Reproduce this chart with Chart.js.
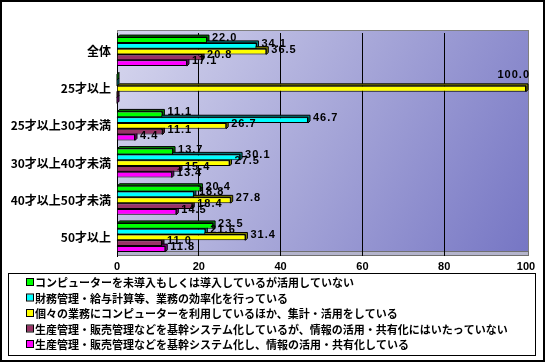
<!DOCTYPE html>
<html>
<head>
<meta charset="utf-8">
<script src="https://cdn.jsdelivr.net/npm/chart.js@4/dist/chart.umd.min.js"></script>
<style>
  html, body { margin: 0; padding: 0; background: #fff; }
  #wrap { width: 545px; height: 362px; }
</style>
</head>
<body>
<div id="wrap"><canvas id="chartIT"></canvas></div>
<script>
// categories (top to bottom)
const categories = ['全体', '25才以上', '25才以上30才未満', '30才以上40才未満', '40才以上50才未満', '50才以上'];

const seriesNames = [
    'コンピューターを未導入もしくは導入しているが活用していない',
    '財務管理・給与計算等、業務の効率化を行っている',
    '個々の業務にコンピューターを利用しているほか、集計・活用をしている',
    '生産管理・販売管理などを基幹システム化しているが、情報の活用・共有化にはいたっていない',
    '生産管理・販売管理などを基幹システム化し、情報の活用・共有化している'
];

const notUsed      = [22.0,   0.0, 11.1, 13.7, 20.4, 23.5];
const efficiency   = [34.1,   0.0, 46.7, 30.1, 18.8, 21.6];
const aggregation  = [36.5, 100.0, 26.7, 27.5, 27.8, 31.4];
const coreNoShare  = [20.8,   0.0, 11.1, 15.4, 18.4, 11.0];
const coreShared   = [17.1,   0.0,  4.4, 13.4, 14.5, 11.8];

const xTicks = [0, 20, 40, 60, 80, 100];

const colores = ['#00ff00', '#00ffff', '#ffff00', '#993366', '#ff00ff'];
const sombras = ['#008000', '#008080', '#808000', '#4c1933', '#800080'];
const valores = [notUsed, efficiency, aggregation, coreNoShare, coreShared];

const fondo = {
    id: 'fondo',
    beforeDraw(chart) {
        const { ctx, chartArea: a } = chart;
        ctx.save();
        // back wall with gradient
        const g = ctx.createLinearGradient(a.left, a.top, a.right, a.bottom);
        g.addColorStop(0, '#d6d6ee');
        g.addColorStop(0.5, '#a6a6d8');
        g.addColorStop(1, '#7676c4');
        ctx.fillStyle = g;
        ctx.fillRect(a.left, a.top - 3, a.right - a.left + 3, a.bottom - a.top + 3);
        ctx.strokeStyle = '#808080';
        ctx.lineWidth = 1;
        ctx.strokeRect(a.left + 0.5, a.top - 2.5, a.right - a.left + 2, a.bottom - a.top + 2);
        // floor
        ctx.fillStyle = '#b4b4cc';
        ctx.fillRect(a.left, a.bottom - 4, a.right - a.left + 2, 4);
        ctx.strokeStyle = '#707070';
        ctx.strokeRect(a.left + 0.5, a.bottom - 4.5, a.right - a.left + 2, 4);
        ctx.restore();
    },
    afterDraw(chart) {
        const { ctx } = chart;
        ctx.save();
        ctx.strokeStyle = '#000';
        ctx.lineWidth = 2;
        ctx.strokeRect(1, 1, chart.width - 2, chart.height - 2);
        ctx.restore();
    }
};

// depth faces for a 3D look
const profundidad = {
    id: 'profundidad',
    beforeDatasetsDraw(chart) {
        const { ctx } = chart;
        const d = 2;
        ctx.save();
        ctx.strokeStyle = '#000';
        ctx.lineWidth = 1;
        chart.data.datasets.forEach((ds, i) => {
            chart.getDatasetMeta(i).data.forEach((bar, j) => {
                const p = bar.getProps(['x', 'y', 'base', 'height'], true);
                const l = Math.min(p.base, p.x), r = Math.max(p.base, p.x);
                const t = p.y - p.height / 2, b = p.y + p.height / 2;
                ctx.fillStyle = sombras[i];
                ctx.beginPath();
                ctx.moveTo(l, t);
                ctx.lineTo(l + d, t - d);
                ctx.lineTo(r + d, t - d);
                ctx.lineTo(r + d, b - d);
                ctx.lineTo(r, b);
                ctx.lineTo(r, t);
                ctx.closePath();
                ctx.fill();
                ctx.stroke();
            });
        });
        ctx.restore();
    }
};

const etiquetas = {
    id: 'etiquetas',
    afterDatasetsDraw(chart) {
        const { ctx, chartArea: a } = chart;
        ctx.save();
        ctx.font = 'bold 11px "Liberation Sans", Arial, sans-serif';
        ctx.letterSpacing = '1px';
        ctx.fillStyle = '#000';
        ctx.textBaseline = 'middle';
        chart.data.datasets.forEach((ds, i) => {
            chart.getDatasetMeta(i).data.forEach((bar, j) => {
                const v = ds.data[j];
                if (!v) return;
                const txt = v.toFixed(1);
                const w = ctx.measureText(txt).width;
                if (bar.x + 5 + w > chart.width - 4) {
                    ctx.textAlign = 'right';
                    ctx.fillText(txt, a.right + 4, bar.y - 14);
                    ctx.textAlign = 'left';
                } else {
                    ctx.fillText(txt, bar.x + 5, bar.y - 2);
                }
            });
        });
        ctx.restore();
    }
};

const leyenda = {
    id: 'leyenda',
    afterDraw(chart) {
        const { ctx } = chart;
        ctx.save();
        ctx.strokeStyle = '#000';
        ctx.lineWidth = 1;
        ctx.strokeRect(8.5, 273.5, 527, 82);
        ctx.font = 'bold 11px "Noto Sans CJK JP", sans-serif';
        ctx.textBaseline = 'middle';
        chart.data.datasets.forEach((ds, i) => {
            const y = 282 + i * 15.5;
            ctx.fillStyle = ds.backgroundColor;
            ctx.fillRect(27, y - 3, 6, 6);
            ctx.strokeStyle = '#000';
            ctx.strokeRect(26.5, y - 3.5, 7, 7);
            ctx.fillStyle = '#000';
            ctx.fillText(ds.label, 35, y + 1);
        });
        ctx.restore();
    }
};

const ctx = document.getElementById('chartIT').getContext('2d');
const chartIT = new Chart(ctx, {
    type: 'bar',
    data: {
        labels: categories,
        datasets: seriesNames.map((name, i) => ({
            label: name,
            data: valores[i],
            backgroundColor: colores[i],
            borderColor: '#000',
            borderWidth: 1,
            barPercentage: 1,
            categoryPercentage: 0.78
        }))
    },
    options: {
        indexAxis: 'y',
        responsive: true,
        maintainAspectRatio: false,
        animation: false,
        layout: { padding: { left: 0, right: 19, top: 33, bottom: 88 } },
        plugins: {
            legend: { display: false },
            tooltip: { enabled: false }
        },
        scales: {
            x: {
                min: 0,
                max: 100,
                afterBuildTicks(scale) {
                    scale.ticks = xTicks.map(v => ({ value: v }));
                },
                afterFit(scale) { scale.height = 18; },
                grid: {
                    color: c => (c.tick && (c.tick.value === 0 || c.tick.value === 100)) ? 'transparent' : '#000',
                    lineWidth: 1,
                    drawTicks: false
                },
                border: { display: false },
                ticks: {
                    color: '#000',
                    padding: 4,
                    font: { family: '"Liberation Sans", Arial, sans-serif', size: 11, weight: 'bold' }
                }
            },
            y: {
                afterFit(scale) { scale.width = 117; },
                grid: { display: false, drawTicks: false },
                border: { display: true, color: '#000', width: 1 },
                ticks: {
                    color: '#000',
                    padding: 6,
                    font: { family: '"Noto Sans CJK JP", sans-serif', size: 12, weight: 'bold' }
                }
            }
        }
    },
    plugins: [fondo, profundidad, etiquetas, leyenda]
});
</script>
</body>
</html>
